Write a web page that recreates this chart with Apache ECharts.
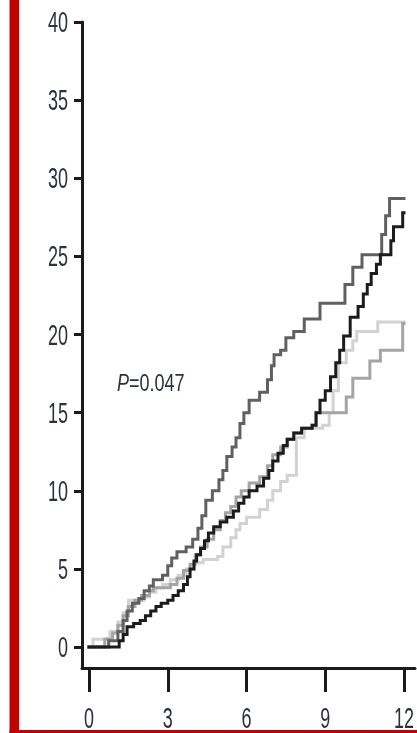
<!DOCTYPE html>
<html>
<head>
<meta charset="utf-8">
<title>Cumulative incidence</title>
<script src="https://cdn.jsdelivr.net/npm/echarts@6/dist/echarts.min.js"></script>
<style>
  html, body { margin: 0; padding: 0; background: #ffffff; }
  #chart { width: 417px; height: 733px; }
</style>
</head>
<body>
<div id="chart"></div>
<script>
// Tick labels
const xTicks = [0, 3, 6, 9, 12];
const yTicks = [0, 5, 10, 15, 20, 25, 30, 35, 40];

// Step curves: time (months) and cumulative value (%) reached at that time
const darkTimes = [0, 0.75, 1.1, 1.3, 1.45, 1.65, 1.9, 2.1, 2.3, 2.45, 2.8, 3.0, 3.15, 3.35, 3.7, 3.95, 4.15, 4.3, 4.45, 4.7, 4.95, 5.1, 5.25, 5.45, 5.6, 5.75, 5.9, 6.1, 6.5, 6.8, 6.95, 7.05, 7.3, 7.5, 7.8, 8.2, 8.8, 9.75, 10.05, 10.4, 11.15, 11.3, 11.45, 12.0];
const darkValues = [0, 0.4, 1.0, 1.7, 2.3, 2.8, 3.1, 3.6, 3.9, 4.3, 4.6, 5.2, 5.7, 6.1, 6.4, 6.9, 7.6, 8.4, 9.4, 10.0, 10.7, 11.3, 12.2, 12.8, 13.4, 14.3, 15.0, 15.8, 16.3, 17.1, 18.0, 18.7, 19.0, 19.8, 20.2, 21.0, 22.0, 23.2, 24.3, 25.1, 26.4, 27.6, 28.7, 28.7];

const blackTimes = [0, 1.15, 1.3, 1.45, 1.7, 1.95, 2.15, 2.35, 2.55, 2.75, 3.0, 3.2, 3.4, 3.6, 3.75, 3.85, 4.0, 4.1, 4.25, 4.4, 4.55, 4.75, 5.0, 5.25, 5.5, 5.7, 5.9, 6.1, 6.4, 6.65, 6.85, 7.0, 7.2, 7.4, 7.55, 7.8, 8.1, 8.5, 8.65, 8.8, 9.0, 9.2, 9.4, 9.55, 9.7, 9.95, 10.25, 10.45, 10.6, 10.75, 10.95, 11.1, 11.5, 11.6, 11.95, 12.0];
const blackValues = [0, 0.4, 0.8, 1.3, 1.5, 1.7, 2.0, 2.3, 2.6, 2.8, 3.0, 3.3, 3.6, 4.0, 4.5, 5.0, 5.5, 5.9, 6.3, 6.8, 7.3, 7.7, 8.0, 8.3, 8.7, 9.2, 9.6, 10.0, 10.3, 10.8, 11.3, 11.9, 12.4, 12.9, 13.3, 13.7, 14.0, 14.2, 15.0, 15.8, 16.4, 17.3, 18.2, 19.0, 19.9, 21.1, 21.8, 22.6, 23.2, 23.9, 24.5, 25.1, 26.0, 26.9, 27.8, 27.8];

const lightTimes = [0, 0.15, 0.55, 0.8, 1.1, 1.3, 1.5, 2.1, 2.3, 2.55, 2.8, 3.1, 3.4, 3.7, 4.0, 4.35, 4.9, 5.1, 5.4, 5.6, 5.75, 6.0, 6.5, 6.8, 7.0, 7.3, 7.55, 7.9, 8.2, 8.9, 9.15, 9.3, 9.5, 9.8, 10.05, 10.2, 11.0, 12.0];
const lightValues = [0, 0.5, 0.6, 1.0, 1.6, 2.2, 3.0, 3.2, 3.5, 3.8, 4.0, 4.3, 4.6, 5.0, 5.4, 5.6, 5.8, 6.4, 7.0, 7.5, 7.9, 8.3, 8.8, 9.4, 10.0, 10.6, 11.0, 13.4, 14.0, 14.2, 15.0, 16.4, 18.2, 19.0, 19.6, 20.2, 20.8, 20.8];

const midTimes = [0, 0.6, 0.9, 1.1, 1.3, 1.5, 1.75, 2.0, 2.3, 2.45, 3.1, 3.35, 3.6, 3.85, 4.05, 4.25, 4.5, 4.75, 5.0, 5.2, 5.4, 5.6, 5.8, 6.1, 6.5, 6.8, 7.0, 7.3, 7.55, 7.8, 8.1, 8.5, 8.65, 9.8, 10.05, 10.7, 11.1, 11.95, 12.0];
const midValues = [0, 0.5, 0.9, 1.4, 2.0, 2.6, 3.0, 3.3, 3.6, 3.8, 4.0, 4.4, 4.9, 5.3, 5.9, 6.4, 6.9, 7.5, 8.1, 8.6, 9.0, 9.6, 10.0, 10.5, 10.9, 11.6, 12.3, 12.8, 13.3, 13.7, 14.0, 14.2, 15.0, 16.0, 17.2, 18.3, 19.0, 20.7, 20.7];

const pValueText = '{i|P}=0.047';

// Axis extents: the axis lines meet below and left of the origin
const X_MIN = -0.267, X_MAX = 12.419;
const Y_MIN = -1.34, Y_MAX = 40;

const AXIS_COLOR = '#1b1b1b';
const LABEL_COLOR = '#2c3142';
const LABEL_FONT = '"Liberation Sans", Arial, sans-serif';

function pairs(ts, vs) { return ts.map((t, i) => [t, vs[i]]); }

function stepSeries(name, ts, vs, color, z) {
  return {
    name: name,
    type: 'line',
    step: 'end',
    data: pairs(ts, vs),
    showSymbol: false,
    symbol: 'none',
    lineStyle: { color: color, width: 3, cap: 'square', join: 'miter' },
    z: z,
    silent: true
  };
}

const chart = echarts.init(document.getElementById('chart'), null, { renderer: 'canvas' });

const option = {
  animation: false,
  backgroundColor: '#ffffff',
  grid: { left: 82, right: 2, top: 22, bottom: 65, containLabel: false },
  xAxis: {
    type: 'value',
    min: X_MIN,
    max: X_MAX,
    axisLine: { show: true, onZero: false, lineStyle: { color: AXIS_COLOR, width: 3 } },
    axisTick: { show: true, customValues: xTicks, length: 24, inside: false, lineStyle: { color: AXIS_COLOR, width: 3 } },
    axisLabel: { show: false },
    splitLine: { show: false }
  },
  yAxis: {
    type: 'value',
    min: Y_MIN,
    max: Y_MAX,
    axisLine: { show: true, onZero: false, lineStyle: { color: AXIS_COLOR, width: 3 } },
    axisTick: { show: true, customValues: yTicks, length: 8, inside: false, lineStyle: { color: AXIS_COLOR, width: 3 } },
    axisLabel: { show: false },
    splitLine: { show: false }
  },
  graphic: [
    // red frame on the left and bottom
    { type: 'rect', left: 9.5, top: 0, shape: { width: 9.5, height: 733 }, style: { fill: '#c20000' }, z: 100 },
    { type: 'rect', left: 9.5, top: 730, shape: { width: 408, height: 3 }, style: { fill: '#c20000' }, z: 100 },
    {
      type: 'text', x: 117, y: 384, scaleX: 0.75, z: 50,
      style: {
        text: pValueText,
        fontSize: 24,
        fontFamily: LABEL_FONT,
        fill: LABEL_COLOR,
        verticalAlign: 'middle',
        align: 'left',
        rich: { i: { fontStyle: 'italic', fontSize: 24, fontFamily: LABEL_FONT, fill: LABEL_COLOR } }
      }
    }
  ],
  series: [
    stepSeries('light', lightTimes, lightValues, '#d2d2d2', 2),
    stepSeries('medium', midTimes, midValues, '#a4a4a4', 3),
    stepSeries('dark', darkTimes, darkValues, '#606060', 4),
    stepSeries('black', blackTimes, blackValues, '#1c1c1c', 5),
    {
      // y tick labels, condensed
      type: 'custom',
      coordinateSystem: 'cartesian2d',
      clip: false,
      silent: true,
      data: yTicks.map(v => [X_MIN, v]),
      encode: { x: 0, y: 1 },
      renderItem: function (params, api) {
        const p = api.coord([api.value(0), api.value(1)]);
        return {
          type: 'text', x: p[0] - 14, y: p[1] + 2, scaleX: 0.62,
          style: {
            text: String(api.value(1)), fontSize: 29, fontFamily: LABEL_FONT,
            fill: LABEL_COLOR, align: 'right', verticalAlign: 'middle'
          }
        };
      },
      z: 10
    },
    {
      // x tick labels, condensed
      type: 'custom',
      coordinateSystem: 'cartesian2d',
      clip: false,
      silent: true,
      data: xTicks.map(v => [v, Y_MIN]),
      encode: { x: 0, y: 1 },
      renderItem: function (params, api) {
        const p = api.coord([api.value(0), api.value(1)]);
        return {
          type: 'text', x: p[0], y: p[1] + 52, scaleX: 0.62,
          style: {
            text: String(api.value(0)), fontSize: 29, fontFamily: LABEL_FONT,
            fill: LABEL_COLOR, align: 'center', verticalAlign: 'middle'
          }
        };
      },
      z: 10
    }
  ]
};

chart.setOption(option);
</script>
</body>
</html>
